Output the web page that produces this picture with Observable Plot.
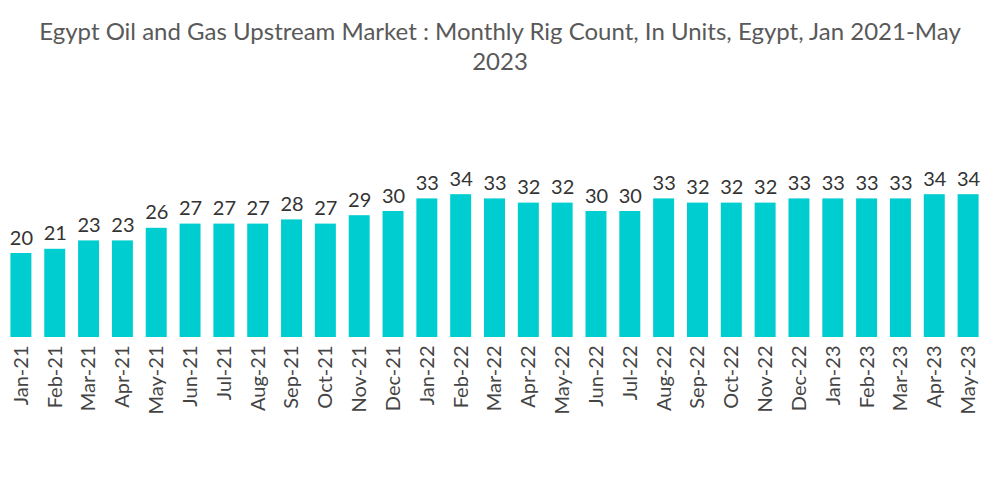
<!DOCTYPE html>
<html>
<head>
<meta charset="utf-8">
<script src="https://cdn.jsdelivr.net/npm/d3@7"></script>
<script src="https://cdn.jsdelivr.net/npm/@observablehq/plot@0.6"></script>
<style>
  html, body { margin: 0; padding: 0; background: #fff; }
  #title { box-sizing: border-box; width: 1000px; height: 80px; padding-top: 16px; text-align: center;
    font-family: Lato, "Open Sans", sans-serif; font-size: 24px; line-height: 30px; color: #595959; }
  #chart svg { display: block; }
</style>
</head>
<body>
<div id="title">Egypt Oil and Gas Upstream Market : Monthly Rig Count, In Units, Egypt, Jan 2021-May<br>2023</div>
<div id="chart"></div>
<script>
const months = ["Jan-21","Feb-21","Mar-21","Apr-21","May-21","Jun-21","Jul-21","Aug-21","Sep-21","Oct-21","Nov-21","Dec-21",
  "Jan-22","Feb-22","Mar-22","Apr-22","May-22","Jun-22","Jul-22","Aug-22","Sep-22","Oct-22","Nov-22","Dec-22",
  "Jan-23","Feb-23","Mar-23","Apr-23","May-23"];
const rigCount = [20,21,23,23,26,27,27,27,28,27,29,30,33,34,33,32,32,30,30,33,32,32,32,33,33,33,33,34,34];
const data = months.map((m, i) => ({month: m, value: rigCount[i]}));

const chart = Plot.plot({
  width: 1000,
  height: 424,
  marginLeft: 4,
  marginRight: 15,
  marginTop: 89,
  marginBottom: 167,
  style: {fontFamily: "Lato, 'Open Sans', sans-serif", background: "#fff"},
  x: {domain: months, paddingInner: 0.38, paddingOuter: 0.19, round: false, label: null},
  y: {domain: [0, 40], axis: null},
  marks: [
    Plot.barY(data, {x: "month", y: "value", fill: "#00CDD0"}),
    Plot.text(data, {x: "month", y: "value", text: d => String(d.value), lineAnchor: "bottom", dy: -9,
      fontSize: 20, fill: "#333"}),
    Plot.axisX({tickSize: 0, tickPadding: 8, tickRotate: -90, fontSize: 20, color: "#444", label: null})
  ]
});
document.getElementById("chart").appendChild(chart);
</script>
</body>
</html>
